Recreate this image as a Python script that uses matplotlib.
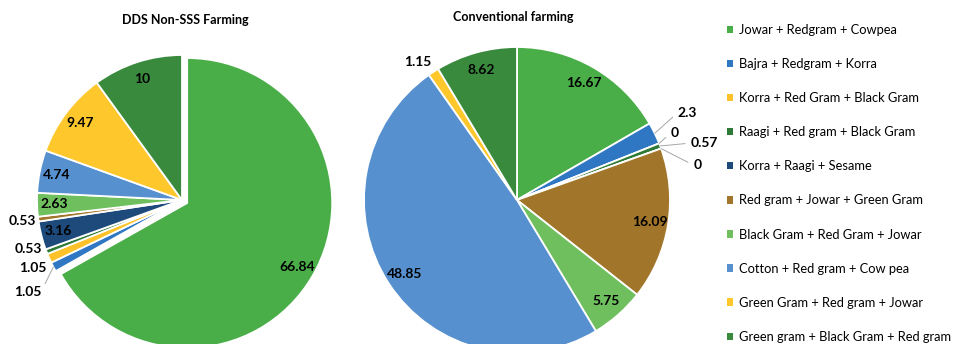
import numpy as np
import matplotlib.pyplot as plt
from matplotlib.patches import Patch

plt.rcParams['font.family'] = ['Lato', 'DejaVu Sans']

# cropping systems (same order in both pies and in the legend)
systems = [
    'Jowar + Redgram + Cowpea',
    'Bajra + Redgram + Korra',
    'Korra + Red Gram + Black Gram',
    'Raagi + Red gram + Black Gram',
    'Korra + Raagi + Sesame',
    'Red gram + Jowar + Green Gram',
    'Black Gram + Red Gram + Jowar',
    'Cotton + Red gram + Cow pea',
    'Green Gram + Red gram + Jowar',
    'Green gram + Black Gram + Red gram',
]
colors = ['#4aae48', '#2f77c3', '#fdc22a', '#2f7a36', '#1d4a7b',
          '#a2762a', '#6fbf5f', '#5690cf', '#fec72c', '#3a8a3e']

dds_share = [66.84, 1.05, 1.05, 0.53, 3.16, 0.53, 2.63, 4.74, 9.47, 10]
conv_share = [16.67, 2.3, 0, 0.57, 0, 16.09, 5.75, 48.85, 1.15, 8.62]

# labels placed outside the pie: index -> (radius factor, angle in deg, leader line?)
dds_outside = {1: (1.24, -149.3, True), 2: (1.13, -155.5, False),
               3: (1.11, -162.2, False), 5: (1.11, -172.5, False)}
conv_outside = {1: (1.25, 27.1, True), 2: (1.12, 23.0, True),
                3: (1.28, 16.9, True), 4: (1.20, 11.0, True),
                8: (1.11, 125.6, False)}

LBL = 10

W, H = 955, 344
fig = plt.figure(figsize=(W / 100, H / 100), dpi=100)
ax = fig.add_axes([0, 0, 1, 1])


def draw_pie(values, center, radius, outside, explode_first=0):
    wedges, _ = ax.pie(values, colors=colors, center=center, radius=radius,
                       startangle=90, counterclock=False,
                       wedgeprops=dict(edgecolor='white', linewidth=1.3))
    if explode_first:
        w = wedges[0]
        mid = np.deg2rad((w.theta1 + w.theta2) / 2)
        w.set_center((center[0] + explode_first * np.cos(mid),
                      center[1] + explode_first * np.sin(mid)))
    for i, (w, v) in enumerate(zip(wedges, values)):
        cx, cy = w.center
        mid = np.deg2rad((w.theta1 + w.theta2) / 2)
        txt = f'{v:g}'
        if i in outside:
            f, ang, leader = outside[i]
            a = np.deg2rad(ang)
            tx, ty = cx + f * radius * np.cos(a), cy + f * radius * np.sin(a)
            ex, ey = cx + radius * np.cos(mid), cy + radius * np.sin(mid)
            if leader:
                ax.annotate(txt, xy=(ex, ey), xytext=(tx, ty), ha='center', va='center',
                            fontsize=LBL, fontweight='bold',
                            arrowprops=dict(arrowstyle='-', color='#a6a6a6', lw=0.7,
                                            shrinkA=2, shrinkB=0,
                                            relpos=(0, 0.5) if tx > cx else (1, 0.5)))
            else:
                ax.text(tx, ty, txt, ha='center', va='center',
                        fontsize=LBL, fontweight='bold')
        else:
            r = 0.88 * radius
            ax.text(cx + r * np.cos(mid), cy + r * np.sin(mid), txt,
                    ha='center', va='center', fontsize=LBL, fontweight='bold')
    return wedges


draw_pie(dds_share, (182, H - 200), 145, dds_outside, explode_first=6)
draw_pie(conv_share, (517, H - 200), 153, conv_outside)

ax.text(185, H - 20, 'DDS Non-SSS Farming', ha='center', va='center',
        fontsize=9, fontweight='bold')
ax.text(513, H - 17, 'Conventional farming', ha='center', va='center',
        fontsize=9, fontweight='bold')

ax.set_xlim(0, W)
ax.set_ylim(0, H)
ax.set_aspect('equal')
ax.axis('off')

handles = [Patch(facecolor=c, edgecolor='none') for c in colors]
fig.legend(handles, systems, loc='upper left', bbox_to_anchor=(727 / W, 1 - 24 / H),
           frameon=False, fontsize=9.3, handlelength=0.5, handleheight=0.5,
           handletextpad=0.45, labelspacing=1.71, borderaxespad=0, borderpad=0)

fig.savefig('out.png', dpi=100)
